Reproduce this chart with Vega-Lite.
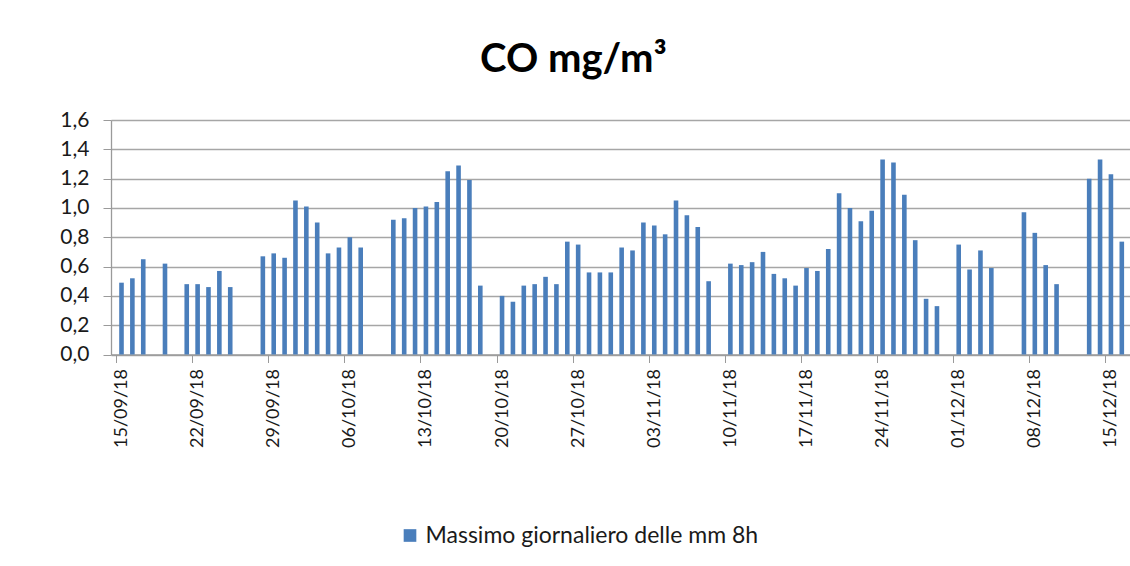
{
  "$schema": "https://vega.github.io/schema/vega-lite/v6.json",
  "autosize": {"type": "none"},
  "padding": {"left": 111, "top": 120, "right": 0, "bottom": 211.5},
  "width": 1019,
  "height": 234.5,
  "background": "white",
  "title": {
    "text": "CO mg/m³",
    "font": "Lato",
    "fontSize": 40,
    "fontWeight": "bold",
    "color": "#000000",
    "anchor": "middle",
    "frame": "group",
    "baseline": "alphabetic",
    "offset": -3,
    "dx": -47
  },
  "data": {
    "values": [
      {"date": "2018-09-15", "value": 0.49},
      {"date": "2018-09-16", "value": 0.52},
      {"date": "2018-09-17", "value": 0.65},
      {"date": "2018-09-19", "value": 0.62},
      {"date": "2018-09-21", "value": 0.48},
      {"date": "2018-09-22", "value": 0.48},
      {"date": "2018-09-23", "value": 0.46},
      {"date": "2018-09-24", "value": 0.57},
      {"date": "2018-09-25", "value": 0.46},
      {"date": "2018-09-28", "value": 0.67},
      {"date": "2018-09-29", "value": 0.69},
      {"date": "2018-09-30", "value": 0.66},
      {"date": "2018-10-01", "value": 1.05},
      {"date": "2018-10-02", "value": 1.01},
      {"date": "2018-10-03", "value": 0.90},
      {"date": "2018-10-04", "value": 0.69},
      {"date": "2018-10-05", "value": 0.73},
      {"date": "2018-10-06", "value": 0.80},
      {"date": "2018-10-07", "value": 0.73},
      {"date": "2018-10-10", "value": 0.92},
      {"date": "2018-10-11", "value": 0.93},
      {"date": "2018-10-12", "value": 1.00},
      {"date": "2018-10-13", "value": 1.01},
      {"date": "2018-10-14", "value": 1.04},
      {"date": "2018-10-15", "value": 1.25},
      {"date": "2018-10-16", "value": 1.29},
      {"date": "2018-10-17", "value": 1.19},
      {"date": "2018-10-18", "value": 0.47},
      {"date": "2018-10-20", "value": 0.40},
      {"date": "2018-10-21", "value": 0.36},
      {"date": "2018-10-22", "value": 0.47},
      {"date": "2018-10-23", "value": 0.48},
      {"date": "2018-10-24", "value": 0.53},
      {"date": "2018-10-25", "value": 0.48},
      {"date": "2018-10-26", "value": 0.77},
      {"date": "2018-10-27", "value": 0.75},
      {"date": "2018-10-28", "value": 0.56},
      {"date": "2018-10-29", "value": 0.56},
      {"date": "2018-10-30", "value": 0.56},
      {"date": "2018-10-31", "value": 0.73},
      {"date": "2018-11-01", "value": 0.71},
      {"date": "2018-11-02", "value": 0.90},
      {"date": "2018-11-03", "value": 0.88},
      {"date": "2018-11-04", "value": 0.82},
      {"date": "2018-11-05", "value": 1.05},
      {"date": "2018-11-06", "value": 0.95},
      {"date": "2018-11-07", "value": 0.87},
      {"date": "2018-11-08", "value": 0.50},
      {"date": "2018-11-10", "value": 0.62},
      {"date": "2018-11-11", "value": 0.61},
      {"date": "2018-11-12", "value": 0.63},
      {"date": "2018-11-13", "value": 0.70},
      {"date": "2018-11-14", "value": 0.55},
      {"date": "2018-11-15", "value": 0.52},
      {"date": "2018-11-16", "value": 0.47},
      {"date": "2018-11-17", "value": 0.59},
      {"date": "2018-11-18", "value": 0.57},
      {"date": "2018-11-19", "value": 0.72},
      {"date": "2018-11-20", "value": 1.10},
      {"date": "2018-11-21", "value": 1.00},
      {"date": "2018-11-22", "value": 0.91},
      {"date": "2018-11-23", "value": 0.98},
      {"date": "2018-11-24", "value": 1.33},
      {"date": "2018-11-25", "value": 1.31},
      {"date": "2018-11-26", "value": 1.09},
      {"date": "2018-11-27", "value": 0.78},
      {"date": "2018-11-28", "value": 0.38},
      {"date": "2018-11-29", "value": 0.33},
      {"date": "2018-12-01", "value": 0.75},
      {"date": "2018-12-02", "value": 0.58},
      {"date": "2018-12-03", "value": 0.71},
      {"date": "2018-12-04", "value": 0.59},
      {"date": "2018-12-07", "value": 0.97},
      {"date": "2018-12-08", "value": 0.83},
      {"date": "2018-12-09", "value": 0.61},
      {"date": "2018-12-10", "value": 0.48},
      {"date": "2018-12-13", "value": 1.20},
      {"date": "2018-12-14", "value": 1.33},
      {"date": "2018-12-15", "value": 1.23},
      {"date": "2018-12-16", "value": 0.77}
    ]
  },
  "mark": {"type": "bar", "width": 4.6, "xOffset": 5.5},
  "encoding": {
    "x": {
      "field": "date",
      "type": "temporal",
      "scale": {
        "type": "utc",
        "domain": [
          {"year": 2018, "month": 9, "date": 15, "utc": true},
          {"year": 2018, "month": 12, "date": 16, "hours": 19, "minutes": 12, "utc": true}
        ]
      },
      "axis": {
        "title": null,
        "grid": false,
        "values": [
          {"year": 2018, "month": 9, "date": 15, "utc": true},
          {"year": 2018, "month": 9, "date": 22, "utc": true},
          {"year": 2018, "month": 9, "date": 29, "utc": true},
          {"year": 2018, "month": 10, "date": 6, "utc": true},
          {"year": 2018, "month": 10, "date": 13, "utc": true},
          {"year": 2018, "month": 10, "date": 20, "utc": true},
          {"year": 2018, "month": 10, "date": 27, "utc": true},
          {"year": 2018, "month": 11, "date": 3, "utc": true},
          {"year": 2018, "month": 11, "date": 10, "utc": true},
          {"year": 2018, "month": 11, "date": 17, "utc": true},
          {"year": 2018, "month": 11, "date": 24, "utc": true},
          {"year": 2018, "month": 12, "date": 1, "utc": true},
          {"year": 2018, "month": 12, "date": 8, "utc": true},
          {"year": 2018, "month": 12, "date": 15, "utc": true}
        ],
        "labelExpr": "utcFormat(datum.value, '%d/%m/%y')",
        "labelAngle": -90,
        "labelAlign": "right",
        "labelBaseline": "middle",
        "labelOffset": 5.5,
        "labelPadding": 6,
        "labelFont": "Lato",
        "labelFontSize": 18,
        "labelColor": "#1a1a1a",
        "labelOverlap": false,
        "labelFlush": false,
        "tickSize": 8,
        "tickColor": "#9a9a9a",
        "domainColor": "#9a9a9a",
        "domainWidth": 1.3
      }
    },
    "y": {
      "field": "value",
      "type": "quantitative",
      "scale": {"domain": [0, 1.6], "nice": false, "zero": true},
      "axis": {
        "title": null,
        "values": [0, 0.2, 0.4, 0.6, 0.8, 1.0, 1.2, 1.4, 1.6],
        "labelExpr": "replace(format(datum.value, '.1f'), '.', ',')",
        "labelFont": "Lato",
        "labelFontSize": 21,
        "labelColor": "#1a1a1a",
        "labelPadding": 14,
        "labelFlush": false,
        "tickSize": 8,
        "tickColor": "#9a9a9a",
        "domainColor": "#9a9a9a",
        "domainWidth": 1.3,
        "grid": true,
        "gridColor": "#a6a6a6",
        "gridWidth": 1.3
      }
    },
    "color": {
      "datum": "Massimo giornaliero delle mm 8h",
      "type": "nominal",
      "scale": {"range": ["#4a7ebb"]},
      "legend": {
        "title": null,
        "orient": "none",
        "legendX": 287.5,
        "legendY": 404,
        "padding": 0,
        "symbolType": "square",
        "symbolSize": 160,
        "symbolStrokeWidth": 0,
        "labelFont": "Lato",
        "labelFontSize": 23,
        "labelLimit": 0,
        "labelColor": "#1a1a1a",
        "labelOffset": 4
      }
    }
  },
  "config": {
    "view": {"stroke": null}
  }
}
